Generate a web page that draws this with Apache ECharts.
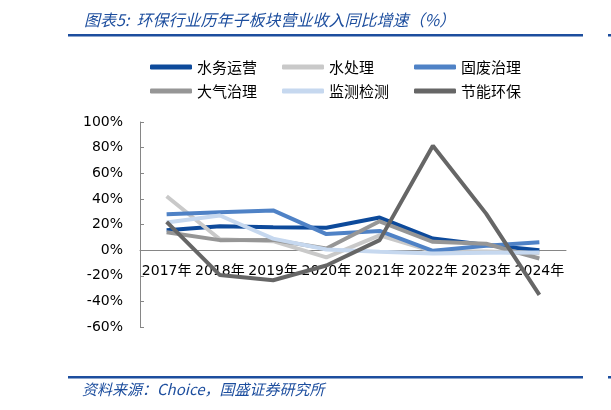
<!DOCTYPE html>
<html>
<head>
<meta charset="utf-8">
<script src="https://cdn.jsdelivr.net/npm/echarts@6/dist/echarts.min.js"></script>
<style>
  html, body { margin: 0; padding: 0; background: #fff; }
  #main { width: 611px; height: 410px; }
</style>
</head>
<body>
<div id="main"></div>
<script>
// 年份
const years = ['2017年', '2018年', '2019年', '2020年', '2021年', '2022年', '2023年', '2024年'];

// 各子板块营业收入同比增速（%）
const waterOps = [15.5, 18.6, 17.8, 17.5, 25.4, 9, 4, 0];          // 水务运营
const waterTreat = [42, 8.5, 7, -5.7, 11.5, -1, -1, -2.5];         // 水处理
const solidWaste = [28, 29.5, 31, 12.5, 15, -0.5, 3.5, 6.2];       // 固废治理
const airTreat = [14, 7.8, 8, 1.3, 22.5, 6.5, 5, -6.5];            // 大气治理
const monitoring = [21.5, 27, 9, 0.5, -1.3, -2.6, -2, -1.8];       // 监测检测
const energySaving = [22, -19.5, -23.5, -12, 7.8, 81.5, 28.5, -35]; // 节能环保

const yTicks = [-60, 100, 20]; // min, max, interval

const blue = '#1d4e9e';
const cjk = '"Noto Sans CJK SC", sans-serif';

const chart = echarts.init(document.getElementById('main'));

const mkLine = (name, data, color) => ({
  name,
  type: 'line',
  data,
  symbol: 'none',
  lineStyle: { width: 4, color },
  itemStyle: { color },
});

const mkLegend = (left, names) => ({
  left,
  top: 53,
  orient: 'vertical',
  icon: 'roundRect',
  itemWidth: 42,
  itemHeight: 5,
  itemGap: 6,
  data: names,
  textStyle: { fontFamily: cjk, fontSize: 15, color: '#000', lineHeight: 18 },
});

// 0% 线离绘图区底边的距离，x 轴画在 0 上
const gridTop = 122, gridBottom = 83, gridH = 410 - gridTop - gridBottom;
const zeroOffset = gridH * (0 - yTicks[0]) / (yTicks[1] - yTicks[0]);

chart.setOption({
  animation: false,
  title: {
    text: '图表5:  环保行业历年子板块营业收入同比增速（%）',
    left: 79,
    top: 7,
    textStyle: { fontFamily: cjk, fontSize: 16, fontStyle: 'italic', fontWeight: 'normal', color: blue },
  },
  legend: [
    mkLegend(145, ['水务运营', '大气治理']),
    mkLegend(277, ['水处理', '监测检测']),
    mkLegend(409, ['固废治理', '节能环保']),
  ],
  grid: { left: 140, right: 45, top: gridTop, bottom: gridBottom },
  xAxis: {
    type: 'category',
    data: years,
    offset: -zeroOffset,
    axisLine: { onZero: false, lineStyle: { color: '#868686', width: 1 } },
    axisTick: { inside: true, length: 5, lineStyle: { color: '#868686' } },
    axisLabel: {
      interval: 0,
      margin: 14,
      fontSize: 14,
      color: '#000',
      fontFamily: '"DejaVu Sans", "Noto Sans CJK SC", sans-serif',
    },
  },
  yAxis: {
    type: 'value',
    min: yTicks[0],
    max: yTicks[1],
    interval: yTicks[2],
    axisLine: { show: true, lineStyle: { color: '#868686', width: 1 } },
    axisTick: { show: true, inside: true, length: 4, lineStyle: { color: '#868686' } },
    splitLine: { show: false },
    axisLabel: {
      formatter: '{value}%',
      margin: 17,
      fontSize: 14,
      color: '#000',
      fontFamily: '"DejaVu Sans", sans-serif',
    },
  },
  series: [
    mkLine('水务运营', waterOps, '#0d4a9b'),
    mkLine('水处理', waterTreat, '#c9c9c9'),
    mkLine('固废治理', solidWaste, '#4f82c6'),
    mkLine('大气治理', airTreat, '#969696'),
    mkLine('监测检测', monitoring, '#c6d8ef'),
    mkLine('节能环保', energySaving, '#666666'),
  ],
  graphic: [
    { type: 'rect', shape: { x: 68, y: 34, width: 515, height: 2.5 }, style: { fill: blue } },
    { type: 'rect', shape: { x: 608, y: 34, width: 3, height: 2.5 }, style: { fill: blue } },
    { type: 'rect', shape: { x: 68, y: 376, width: 515, height: 2.5 }, style: { fill: blue } },
    { type: 'rect', shape: { x: 608, y: 376, width: 3, height: 2.5 }, style: { fill: blue } },
    {
      type: 'text',
      left: 82,
      top: 382,
      style: {
        text: '资料来源：Choice，国盛证券研究所',
        font: 'italic 15px "Noto Sans CJK SC", sans-serif',
        fill: blue,
      },
    },
  ],
});
</script>
</body>
</html>
